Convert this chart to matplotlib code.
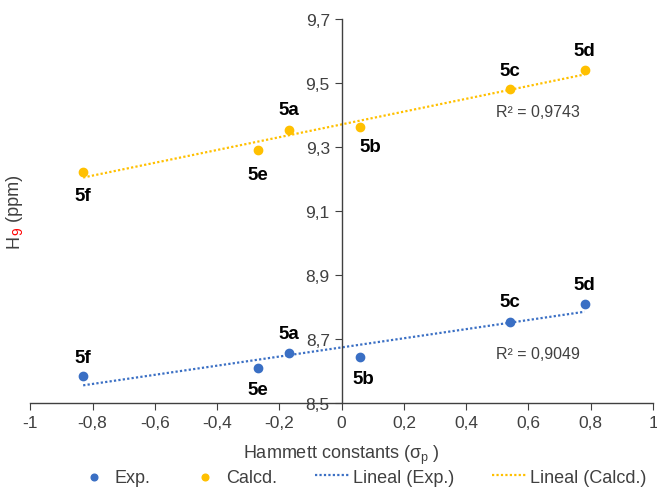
import matplotlib.pyplot as plt
from matplotlib.ticker import FuncFormatter
import numpy as np

plt.rcParams['font.family'] = ['Liberation Sans', 'DejaVu Sans']

# datos
etiquetas = ['5f', '5e', '5a', '5b', '5c', '5d']
sigma_p = [-0.83, -0.27, -0.17, 0.06, 0.54, 0.78]
h9_exp = [8.584, 8.61, 8.656, 8.644, 8.753, 8.81]
h9_calc = [9.222, 9.29, 9.352, 9.362, 9.48, 9.54]
r2_exp = '0,9049'
r2_calc = '0,9743'

azul = '#3a6fc4'
oro = '#ffc000'

# desplazamientos de las etiquetas (pixeles)
off_calc = [(0, -24), (0, -24), (0, 21), (10, -19), (0, 19), (0, 20)]
off_exp = [(0, 19), (0, -22), (0, 20), (3, -22), (0, 20), (0, 19)]

fig = plt.figure(figsize=(6.57, 4.89), dpi=100)
ax = fig.add_axes([0.046, 0.174, 0.948, 0.785])

x = np.array(sigma_p)
ax.scatter(x, h9_exp, s=36, color=azul, zorder=3, label='Exp.')
ax.scatter(x, h9_calc, s=36, color=oro, zorder=3, label='Calcd.')

xs = np.array([x.min(), x.max()])
for y, c, lab in [(h9_exp, azul, 'Lineal (Exp.)'), (h9_calc, oro, 'Lineal (Calcd.)')]:
    p = np.polyfit(x, y, 1)
    ax.plot(xs, np.polyval(p, xs), color=c, lw=1.6, ls=(0, (1, 1)), label=lab, zorder=2)

for xi, yi, t, o in zip(x, h9_calc, etiquetas, off_calc):
    ax.annotate(t, (xi, yi), xytext=o, textcoords='offset pixels', ha='center', va='center',
                fontsize=13.5, fontweight='bold')
for xi, yi, t, o in zip(x, h9_exp, etiquetas, off_exp):
    ax.annotate(t, (xi, yi), xytext=o, textcoords='offset pixels', ha='center', va='center',
                fontsize=13.5, fontweight='bold')

ax.text(0.63, 9.41, 'R² = ' + r2_calc, fontsize=11.5, ha='center', va='center', color='#404040')
ax.text(0.63, 8.655, 'R² = ' + r2_exp, fontsize=11.5, ha='center', va='center', color='#404040')

ax.set_xlim(-1, 1)
ax.set_ylim(8.5, 9.7)
ax.set_xticks(np.arange(-1, 1.01, 0.2))
ax.set_yticks(np.arange(8.5, 9.71, 0.2))
coma = FuncFormatter(lambda v, pos: ('%g' % (round(v, 2) + 0.0)).replace('.', ','))
ax.xaxis.set_major_formatter(coma)
ax.yaxis.set_major_formatter(coma)

ax.spines['top'].set_visible(False)
ax.spines['right'].set_visible(False)
ax.spines['left'].set_position(('data', 0))
for s in ['left', 'bottom']:
    ax.spines[s].set_color('#404040')
    ax.spines[s].set_linewidth(1.0)
ax.tick_params(axis='both', colors='#404040', labelcolor='#404040', labelsize=12.5, length=5, direction='out')
ax.tick_params(axis='x', pad=4)

ax.set_xlabel('Hammett constants (σ$_\\mathregular{p}$ )', fontsize=13, color='#404040', labelpad=9)

# etiqueta del eje y con el 9 en rojo
t1 = fig.text(0.022, 0.493, 'H', rotation=90, fontsize=13, color='#404040', ha='center', va='bottom')
t2 = ax.annotate('9', xy=(0.5, 1.0), xycoords=t1, xytext=(4, 0), textcoords='offset pixels',
                 rotation=90, fontsize=10, color='red', ha='center', va='bottom')
ax.annotate(' (ppm)', xy=(0.5, 1.0), xycoords=t2, xytext=(-4, 0), textcoords='offset pixels',
            rotation=90, fontsize=13, color='#404040', ha='center', va='bottom')

h, l = ax.get_legend_handles_labels()
fig.legend(h, l, loc='center', bbox_to_anchor=(0.55, 0.022), ncol=4, frameon=False, fontsize=13,
           handlelength=1.9, columnspacing=2.1, handletextpad=0.2, markerscale=0.8,
           labelcolor='#404040', borderpad=0)

fig.savefig('out.png', dpi=100)
